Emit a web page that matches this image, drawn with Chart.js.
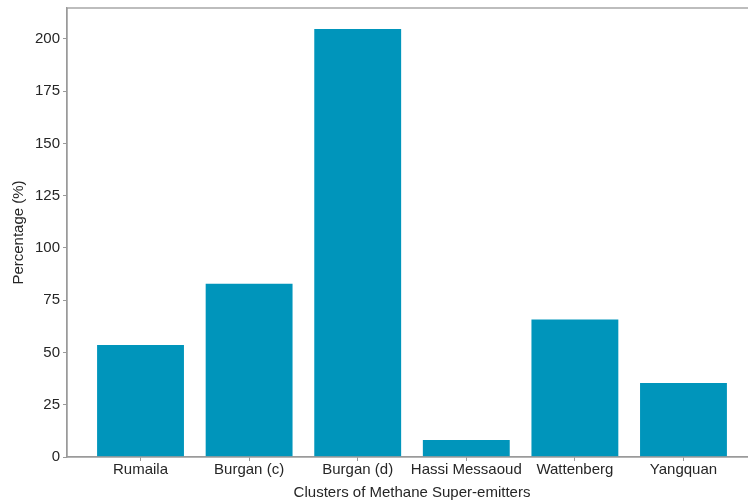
<!DOCTYPE html>
<html>
<head>
<meta charset="utf-8">
<script src="https://cdn.jsdelivr.net/npm/chart.js@4/dist/chart.umd.min.js"></script>
<style>
  html, body { margin: 0; padding: 0; background: #fff; overflow: hidden; }
  #wrap { width: 760px; height: 502px; }
</style>
</head>
<body>
<div id="wrap"><canvas id="chart" width="760" height="502"></canvas></div>
<script>
// categories and values
const clusters = ['Rumaila', 'Burgan (c)', 'Burgan (d)', 'Hassi Messaoud', 'Wattenberg', 'Yangquan'];
const percentages = [53.6, 82.9, 204.8, 8.1, 65.8, 35.4];
const yTicks = [0, 25, 50, 75, 100, 125, 150, 175, 200];

const spineColor = '#9a9a9a';
const textColor = '#262626';
const fontFamily = 'Liberation Sans, Arial, sans-serif';

// matplotlib-like frame around the plot area
const framePlugin = {
  id: 'frame',
  afterDraw(chart) {
    const { ctx, chartArea: a } = chart;
    ctx.save();
    ctx.strokeStyle = spineColor;
    ctx.lineWidth = 1.3;
    ctx.strokeRect(a.left, a.top, a.right - a.left, a.bottom - a.top);
    ctx.restore();
  }
};

const ctx = document.getElementById('chart').getContext('2d');
new Chart(ctx, {
  type: 'bar',
  data: {
    datasets: [{
      label: 'Percentage (%)',
      data: percentages.map((v, i) => ({ x: i, y: v })),
      backgroundColor: '#0095bb',
      borderWidth: 0,
      barPercentage: 1.0,
      categoryPercentage: 0.8,
    }],
  },
  options: {
    responsive: false,
    animation: false,
    layout: { padding: { top: 8, right: 3, left: 10, bottom: 0 } },
    plugins: { legend: { display: false }, tooltip: { enabled: false } },
    scales: {
      x: {
        type: 'linear',
        offset: false,
        min: -0.677,
        max: 5.677,
        afterBuildTicks: (s) => { s.ticks = clusters.map((c, i) => ({ value: i })); },
        afterFit: (s) => { s.height = 45; s.paddingLeft = 0; s.paddingRight = 0; },
        ticks: {
          callback: (v) => clusters[v],
          color: textColor,
          font: { family: fontFamily, size: 15 },
          padding: 0,
          maxRotation: 0,
          autoSkip: false,
        },
        grid: { offset: false, drawOnChartArea: false, tickLength: 4, tickColor: spineColor },
        border: { color: spineColor, width: 1.3 },
        title: {
          display: true,
          text: 'Clusters of Methane Super-emitters',
          color: textColor,
          font: { family: fontFamily, size: 15 },
          padding: { top: 0, bottom: 0 },
        },
      },
      y: {
        min: 0,
        max: 214.8,
        afterBuildTicks: (s) => { s.ticks = yTicks.map(v => ({ value: v })); },
        afterFit: (s) => { s.width = 57; s.paddingTop = 0; s.paddingBottom = 0; },
        ticks: {
          color: textColor,
          font: { family: fontFamily, size: 15 },
          padding: 3,
        },
        grid: { drawOnChartArea: false, tickLength: 4, tickColor: spineColor },
        border: { color: spineColor, width: 1.3 },
        title: {
          display: true,
          text: 'Percentage (%)',
          color: textColor,
          font: { family: fontFamily, size: 15 },
          padding: { top: 0, bottom: 0 },
        },
      },
    },
  },
  plugins: [framePlugin],
});
</script>
</body>
</html>
